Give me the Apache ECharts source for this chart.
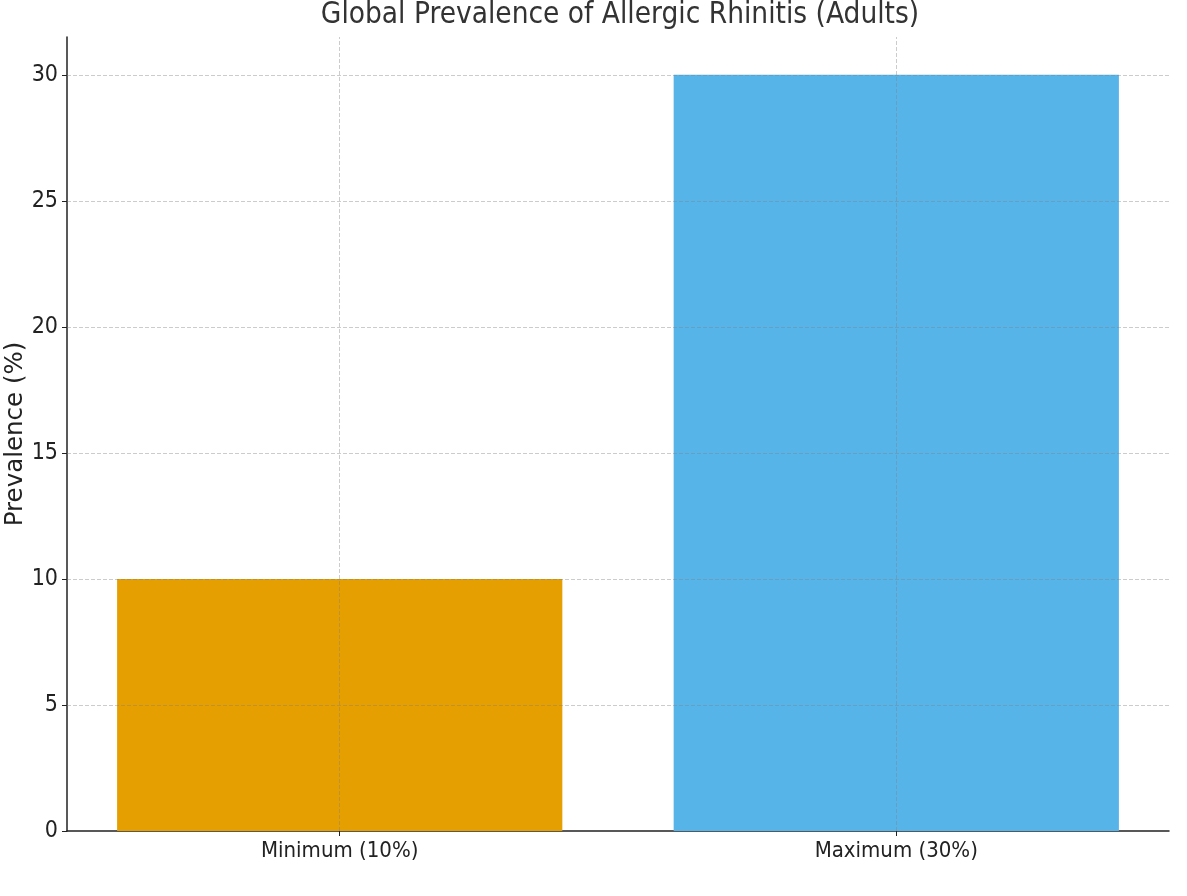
<!DOCTYPE html>
<html>
<head>
<meta charset="utf-8">
<script src="https://cdn.jsdelivr.net/npm/echarts@6/dist/echarts.min.js"></script>
<style>html,body{margin:0;padding:0;background:#fff;}#c{width:1187px;height:896px;}</style>
</head>
<body>
<div id="c"></div>
<script>
const categories = ['Minimum (10%)', 'Maximum (30%)'];
const prevalence = [10, 30];
const barColors = ['#E69F00', '#56B4E9'];
const yTicks = [0, 5, 10, 15, 20, 25, 30];
const titleText = 'Global Prevalence of Allergic Rhinitis (Adults)';
const yAxisName = 'Prevalence (%)';

const condensed = 'DejaVu Sans Condensed';
const gridStyle = { color: 'rgba(128,128,128,0.4)', type: [4, 2], width: 1 };
const catIdx = categories.map((c, i) => i);

const chart = echarts.init(document.getElementById('c'), null, { renderer: 'canvas' });
chart.setOption({
  animation: false,
  backgroundColor: '#fff',
  title: {
    text: titleText,
    left: 615, top: -5, textAlign: 'center',
    textStyle: { fontFamily: condensed, fontSize: 29.5, fontWeight: 'normal', color: '#333' }
  },
  grid: { left: 67, right: 18, top: 37, bottom: 65, containLabel: false, outerBoundsMode: 'none' },
  xAxis: {
    type: 'value',
    min: -0.49, max: 1.49,
    axisLine: { show: true, onZero: false, lineStyle: { color: '#222', width: 1.5 } },
    axisTick: { show: true, length: 5, customValues: catIdx, lineStyle: { color: '#222' } },
    axisLabel: { fontFamily: condensed, fontSize: 22, color: '#222', margin: 9, customValues: catIdx,
      formatter: v => categories[Math.round(v)] },
    splitLine: { show: false }
  },
  yAxis: {
    type: 'value',
    min: 0, max: 31.5, interval: 5,
    name: yAxisName,
    nameLocation: 'middle',
    nameMoveOverlap: false,
    nameGap: 39,
    nameTextStyle: { fontFamily: 'DejaVu Sans', fontSize: 24.5, color: '#222' },
    axisLine: { show: true, onZero: false, lineStyle: { color: '#222', width: 1.5 } },
    axisTick: { show: true, length: 5, customValues: yTicks, lineStyle: { color: '#222' } },
    axisLabel: { fontFamily: condensed, fontSize: 23, color: '#222', margin: 9, customValues: yTicks },
    splitLine: { show: false }
  },
  series: [{
    type: 'bar',
    barWidth: '80%',
    data: prevalence.map((v, i) => ({ value: [i, v], itemStyle: { color: barColors[i] } })),
    markLine: {
      silent: true,
      symbol: 'none',
      label: { show: false },
      lineStyle: gridStyle,
      data: yTicks.filter(t => t > 0).map(t => ({ yAxis: t })).concat(catIdx.map(i => ({ xAxis: i })))
    }
  }]
});
</script>
</body>
</html>
